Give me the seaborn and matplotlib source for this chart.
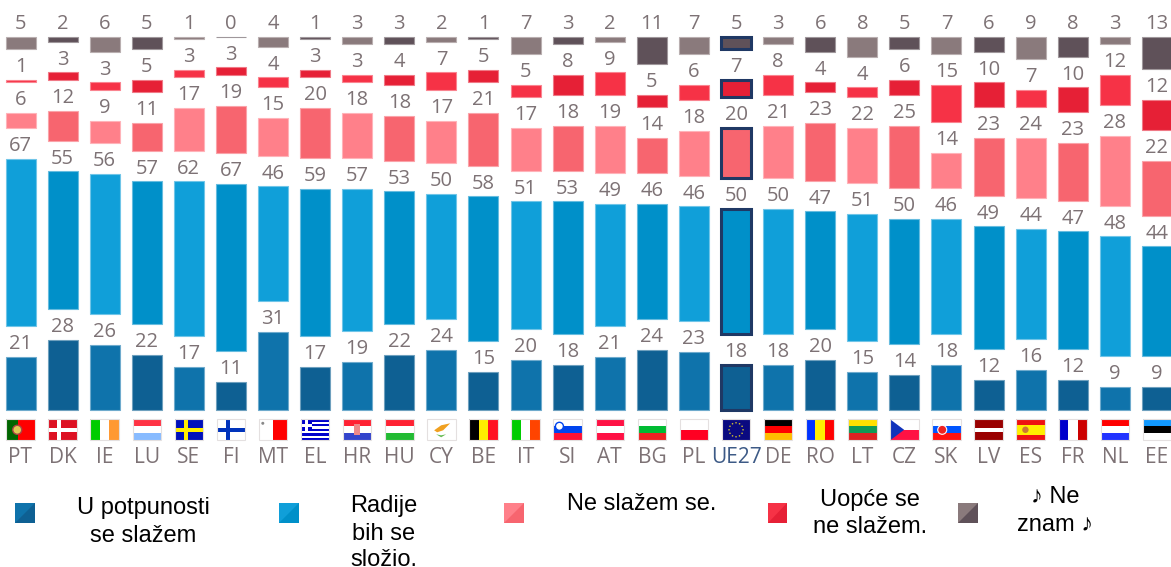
import numpy as np
import pandas as pd
import matplotlib
matplotlib.use("Agg")
import matplotlib.pyplot as plt
from matplotlib.patches import Polygon, Rectangle, Circle
import seaborn as sns

# Data
countries = ["PT", "DK", "IE", "LU", "SE", "FI", "MT", "EL", "HR", "HU", "CY", "BE", "IT", "SI",
             "AT", "BG", "PL", "UE27", "DE", "RO", "LT", "CZ", "SK", "LV", "ES", "FR", "NL", "EE"]
agree_full = [21, 28, 26, 22, 17, 11, 31, 17, 19, 22, 24, 15, 20, 18, 21, 24, 23, 18, 18, 20, 15, 14, 18, 12, 16, 12, 9, 9]
agree_some = [67, 55, 56, 57, 62, 67, 46, 59, 57, 53, 50, 58, 51, 53, 49, 46, 46, 50, 50, 47, 51, 50, 46, 49, 44, 47, 48, 44]
disagree_some = [6, 12, 9, 11, 17, 19, 15, 20, 18, 18, 17, 21, 17, 18, 19, 14, 18, 20, 21, 23, 22, 25, 14, 23, 24, 23, 28, 22]
disagree_full = [1, 3, 3, 5, 3, 3, 4, 3, 3, 4, 7, 5, 5, 8, 9, 5, 6, 7, 8, 4, 4, 6, 15, 10, 7, 10, 12, 12]
dont_know = [5, 2, 6, 5, 1, 0, 4, 1, 3, 3, 2, 1, 7, 3, 2, 11, 7, 5, 3, 6, 8, 5, 7, 6, 9, 8, 3, 13]

series = [agree_full, agree_some, disagree_some, disagree_full, dont_know]
# light / dark shade of each answer, bars alternate between the two
shades = [("#0f73ab", "#0e6093"), ("#109fd9", "#0090c9"), ("#ff808a", "#f7656f"),
          ("#f63246", "#e62036"), ("#8a7a7c", "#5f5159")]
legend_texts = ["U potpunosti\nse slažem", "Radije\nbih se\nsložio.", "Ne slažem se.",
                "Uopće se\nne slažem.", "♪ Ne\nznam ♪"]

W, H = 1171, 567
PX_UNIT = 2.5          # pixels per percent
GAP = 30.7 / PX_UNIT   # white gap between the stacked pieces
BASE_Y = 409.5
FIRST_X = 20.5
STEP_X = 42.09
GREY = "#7d7275"
NAVY = "#1f3864"

sns.set_theme(style="white")
plt.rcParams["font.family"] = ["Open Sans", "DejaVu Sans"]


def tint(col, amount=0.4):
    rgb = np.array(matplotlib.colors.to_rgb(col))
    return tuple(rgb + (1 - rgb) * amount)


fig = plt.figure(figsize=(W / 100, H / 100), dpi=100)
ax = fig.add_axes([0, 0, 1, 1])

bottoms = np.zeros(len(countries))
for row, vals in enumerate(series):
    df = pd.DataFrame({"country": countries, "value": vals})
    sns.barplot(data=df, x="country", y="value", bottom=bottoms, order=countries, color=shades[row][0],
                saturation=1, width=30 / STEP_X, errorbar=None, ax=ax)
    bars = ax.containers[-1]
    for i, bar in enumerate(bars):
        face = shades[row][i % 2]
        bar.set_facecolor(face)
        bar.set_edgecolor(tint(face))
        bar.set_linewidth(0.8)
        if countries[i] == "UE27":
            bar.set_edgecolor(NAVY)
            bar.set_linewidth(2.2)
    ax.bar_label(bars, labels=[str(v) for v in vals], padding=2, fontsize=14.5, color=GREY)
    bottoms = bottoms + np.array(vals) + GAP

ax.set_xlim(-FIRST_X / STEP_X, (W - FIRST_X) / STEP_X)
ax.set_ylim(-(H - BASE_Y) / PX_UNIT, BASE_Y / PX_UNIT)
ax.set_xlabel("")
ax.set_ylabel("")
ax.set_yticks([])
ax.tick_params(axis="x", length=0, labelsize=15, labelcolor=GREY)
ax.set_xticks(range(len(countries)))
ax.set_xticklabels(countries)
sns.despine(ax=ax, left=True, bottom=True, top=True, right=True)
ax.patch.set_visible(False)

# tick labels sit right under the flags, not on the figure edge
for lab, code in zip(ax.get_xticklabels(), countries):
    lab.set_transform(ax.get_xaxis_transform())
    lab.set_y((H - 457.2) / H)
    lab.set_va("center")
    if code == "UE27":
        lab.set_color("#3d5a86")

# pixel overlay for flags and legend
ov = fig.add_axes([0, 0, 1, 1])
ov.set_xlim(0, W)
ov.set_ylim(H, 0)
ov.axis("off")
ov.patch.set_visible(False)

FW, FH = 28.5, 21

flag_stripes = {
    "PT": ("v", ["#006600", "#006600", "#ff0000", "#ff0000", "#ff0000"]), "IE": ("v", ["#00cc00", "#ffffff", "#ff9933"]),
    "LU": ("h", ["#ff3344", "#ffffff", "#88bbff"]), "MT": ("v", ["#ffffff", "#ff0000"]),
    "HR": ("h", ["#ff2233", "#ffffff", "#3344cc"]), "HU": ("h", ["#ff2233", "#ffffff", "#22bb33"]),
    "CY": ("h", ["#ffffff"]), "BE": ("v", ["#000000", "#ffee00", "#ff1122"]),
    "IT": ("v", ["#00cc00", "#ffffff", "#ff4400"]), "SI": ("h", ["#ffffff", "#0044ee", "#ff1133"]),
    "AT": ("h", ["#ff1144", "#ffffff", "#ff1144"]), "BG": ("h", ["#ffffff", "#00bb33", "#ee2222"]),
    "PL": ("h", ["#ffffff", "#ff0022"]), "UE27": ("h", ["#0a0a80"]),
    "DE": ("h", ["#000000", "#ff0000", "#ffbb00"]), "RO": ("v", ["#0033ff", "#ffee00", "#ff0000"]),
    "LT": ("h", ["#ffe000", "#119955", "#dd2222"]), "CZ": ("h", ["#ffffff", "#ff1144"]),
    "SK": ("h", ["#ffffff", "#0055ff", "#ff1111"]), "LV": ("h", ["#990000", "#990000", "#ffffff", "#990000", "#990000"]),
    "ES": ("h", ["#ee1111", "#ffee00", "#ffee00", "#ee1111"]), "FR": ("v", ["#0000cc", "#ffffff", "#cc0000"]),
    "NL": ("h", ["#ff0000", "#ffffff", "#2233ff"]), "EE": ("h", ["#1199ff", "#000000", "#ffffff"]),
    "DK": ("h", ["#dd1122"]), "SE": ("h", ["#0011bb"]), "FI": ("h", ["#ffffff"]), "EL": ("h", ["#0000cc", "#ffffff"] * 4 + ["#0000cc"]),
}

for i, code in enumerate(countries):
    cx = FIRST_X + STEP_X * i
    x0, y0 = cx - FW / 2, 419.3
    orient, cols = flag_stripes[code]
    n = len(cols)
    for k, c in enumerate(cols):
        if orient == "v":
            ov.add_patch(Rectangle((x0 + k * FW / n, y0), FW / n, FH, fc=c, lw=0))
        else:
            ov.add_patch(Rectangle((x0, y0 + k * FH / n), FW, FH / n, fc=c, lw=0))
    if code in ("DK", "SE", "FI"):
        cross = {"DK": "#ffffff", "SE": "#ffee00", "FI": "#0033bb"}[code]
        ov.add_patch(Rectangle((x0 + 9, y0), 4, FH, fc=cross, lw=0))
        ov.add_patch(Rectangle((x0, y0 + 8.5), FW, 4, fc=cross, lw=0))
    if code == "EL":
        ov.add_patch(Rectangle((x0, y0), 11, 11.6, fc="#0000cc", lw=0))
        ov.add_patch(Rectangle((x0 + 4, y0), 3, 11.6, fc="#ffffff", lw=0))
        ov.add_patch(Rectangle((x0, y0 + 4.4), 11, 2.8, fc="#ffffff", lw=0))
    if code == "PT":
        ov.add_patch(Circle((x0 + 11, y0 + 10.5), 4.5, fc="#ddcc55", ec="#aa4444", lw=1))
    if code == "MT":
        ov.add_patch(Circle((x0 + 4, y0 + 4), 1.5, fc="#888888", lw=0))
    if code == "HR":
        ov.add_patch(Rectangle((x0 + 11, y0 + 5), 6.5, 11, fc="#ee8888", lw=0))
    if code == "CY":
        ov.add_patch(Polygon([(x0 + 7, y0 + 11), (x0 + 14, y0 + 6), (x0 + 23, y0 + 4), (x0 + 16, y0 + 11), (x0 + 10, y0 + 13)], fc="#f0a020", lw=0))
        ov.add_patch(Polygon([(x0 + 9, y0 + 15), (x0 + 14, y0 + 18), (x0 + 19, y0 + 15), (x0 + 14, y0 + 16)], fc="#66bb55", lw=0))
    if code == "SI":
        ov.add_patch(Circle((x0 + 6, y0 + 7), 4, fc="#ffffff", ec="#0044ee", lw=1))
    if code == "SK":
        ov.add_patch(Circle((x0 + 10, y0 + 10.5), 4.5, fc="#ee2222", ec="#ffffff", lw=0.8))
    if code == "CZ":
        ov.add_patch(Polygon([(x0, y0), (x0 + 14, y0 + FH / 2), (x0, y0 + FH)], fc="#1133bb", lw=0))
    if code == "ES":
        ov.add_patch(Circle((x0 + 9, y0 + 10.5), 3.2, fc="#cc7733", lw=0))
    if code == "UE27":
        for a in np.deg2rad(np.arange(0, 360, 30)):
            ov.add_patch(Circle((cx + 7 * np.cos(a), y0 + FH / 2 + 7 * np.sin(a)), 0.8, fc="#ccbb33", lw=0))
    ov.add_patch(Rectangle((x0, y0), FW, FH, fc="none", ec="#e4e0e0", lw=0.8))

# legend, laid out by hand like the original; y values are text baselines
swatch_x = [15, 279, 504, 767.5, 958]
text_pos = [(143, 514, 542), (384, 512, 540, 565.5), (642, 510), (870, 506, 533), (1055, 503, 531)]
SW = 19.5
for (sx, (c1, c2), label, pos) in zip(swatch_x, shades, legend_texts, text_pos):
    y0 = 503
    ov.add_patch(Rectangle((sx, y0), SW, SW, fc=c1, lw=0))
    ov.add_patch(Polygon([(sx + SW, y0), (sx + SW, y0 + SW), (sx, y0 + SW)], fc=c2, lw=0))
    for line, y in zip(label.split("\n"), pos[1:]):
        ov.text(pos[0], y, line, ha="center", va="baseline", fontsize=17, color="black",
                family=["Liberation Sans", "DejaVu Sans"])

fig.savefig("out.png", dpi=100)
